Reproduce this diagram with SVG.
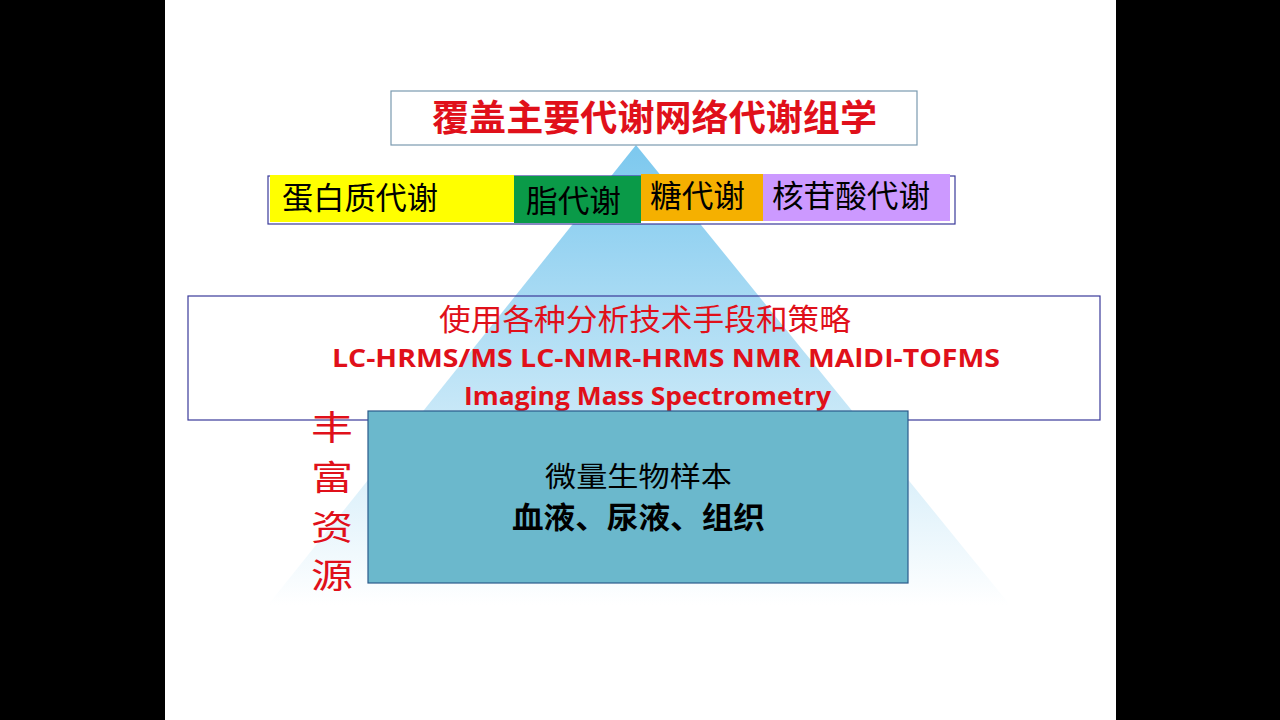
<svg xmlns="http://www.w3.org/2000/svg" width="1280" height="720" viewBox="0 0 1280 720">
<defs>
<linearGradient id="pg" x1="0" y1="0" x2="0" y2="1">
<stop offset="0" stop-color="#7cc8ee"/>
<stop offset="0.55" stop-color="#c4e6f7"/>
<stop offset="1" stop-color="#ffffff"/>
</linearGradient>
</defs>
<style>
.cn{font-family:"Noto Sans CJK SC","Noto Sans",sans-serif}
.en{font-family:"Open Sans","Noto Sans",sans-serif;font-weight:bold}
.bx{stroke:#3a3a9a;stroke-width:1.2}
</style>
<rect width="1280" height="720" fill="#000"/>
<rect x="165" y="0" width="951" height="720" fill="#fff"/>
<polygon points="636,145 1010,605 268,605" fill="url(#pg)"/>
<g id="top">
<rect x="391" y="91" width="526" height="54" fill="#fff" stroke="#7a9ab0" stroke-width="1.2"/>
<text x="432" y="131" textLength="445" lengthAdjust="spacingAndGlyphs" class="cn" font-size="36" font-weight="bold" fill="#e0101a">覆盖主要代谢网络代谢组学</text>
</g>
<g id="bar">
<rect x="268" y="176" width="687" height="48" fill="#fff" class="bx"/>
<rect x="270" y="175" width="244" height="47" fill="#ffff00"/>
<rect x="514" y="176" width="127" height="47" fill="#0a9a48"/>
<rect x="641" y="174" width="122" height="47" fill="#f5b000"/>
<rect x="763" y="174" width="187" height="47" fill="#cc99ff"/>
<text x="282" y="209" textLength="156" lengthAdjust="spacingAndGlyphs" class="cn" font-size="31" fill="#000">蛋白质代谢</text>
<text x="526" y="212" textLength="95" lengthAdjust="spacingAndGlyphs" class="cn" font-size="31" fill="#000">脂代谢</text>
<text x="650" y="207" textLength="95" lengthAdjust="spacingAndGlyphs" class="cn" font-size="31" fill="#000">糖代谢</text>
<text x="772" y="207" textLength="158" lengthAdjust="spacingAndGlyphs" class="cn" font-size="31" fill="#000">核苷酸代谢</text>
</g>
<g id="tech">
<rect x="188" y="296" width="912" height="124" fill="none" class="bx"/>
<text x="439" y="330" textLength="412" lengthAdjust="spacingAndGlyphs" class="cn" font-size="30" fill="#e0101a">使用各种分析技术手段和策略</text>
<text x="332" y="367" textLength="668" lengthAdjust="spacingAndGlyphs" class="en" font-size="25" fill="#e0101a">LC-HRMS/MS  LC-NMR-HRMS  NMR  MAlDI-TOFMS</text>
<text x="464" y="405" textLength="367" lengthAdjust="spacingAndGlyphs" class="en" font-size="25" fill="#e0101a">Imaging Mass Spectrometry</text>
</g>
<g id="sample">
<rect x="368" y="411" width="540" height="172" fill="#6bb8cc" stroke="#2a5a8a" stroke-width="1.2"/>
<text x="545" y="487" textLength="187" lengthAdjust="spacingAndGlyphs" class="cn" font-size="28" fill="#000">微量生物样本</text>
<text x="512" y="528" textLength="253" lengthAdjust="spacingAndGlyphs" class="cn" font-size="30" font-weight="bold" fill="#000">血液、尿液、组织</text>
</g>
<g id="side" class="cn" font-size="34" fill="#e0101a" text-anchor="middle">
<text x="332" y="440" textLength="42" lengthAdjust="spacingAndGlyphs">丰</text>
<text x="332" y="490" textLength="42" lengthAdjust="spacingAndGlyphs">富</text>
<text x="332" y="540" textLength="42" lengthAdjust="spacingAndGlyphs">资</text>
<text x="332" y="588" textLength="42" lengthAdjust="spacingAndGlyphs">源</text>
</g>
</svg>
